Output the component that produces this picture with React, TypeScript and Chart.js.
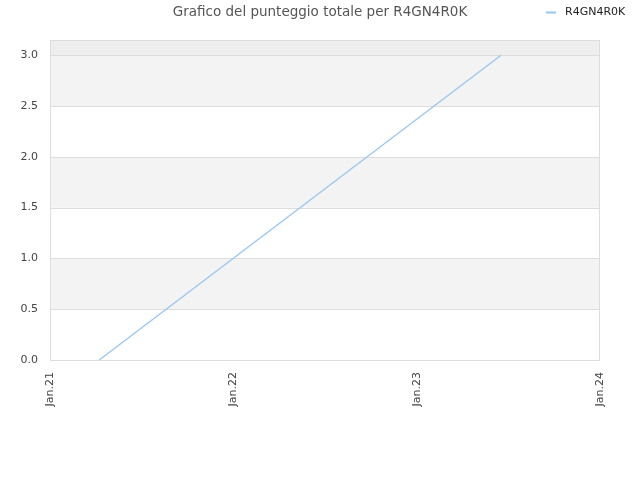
import React, { useEffect, useRef } from 'react';
import { Chart, registerables } from 'chart.js';

Chart.register(...registerables);

const seriesName = 'R4GN4R0K';
const pointDates = ['2021-04-09', '2023-06-18'];
const pointScores = [0, 3];
const yearTicks = ['2021-01-01', '2022-01-01', '2023-01-01', '2024-01-01'];
const monthNames = ['Jan.', 'Feb.', 'Mar.', 'Apr.', 'May.', 'Jun.', 'Jul.', 'Aug.', 'Sep.', 'Oct.', 'Nov.', 'Dec.'];

const toTime = (d: string) => new Date(d + 'T00:00:00Z').getTime();
const lineColor = '#97c6f1';

// alternating bands + frame round the plot area
const bandsPlugin = {
  id: 'bands',
  beforeDatasetsDraw(chart: any) {
    const { ctx, chartArea, scales } = chart;
    const y = scales.y;
    const w = chartArea.right - chartArea.left;
    ctx.save();
    for (let v = 0.5; v + 0.5 <= 3; v += 1) {
      const top = y.getPixelForValue(v + 0.5);
      const bottom = y.getPixelForValue(v);
      ctx.fillStyle = '#f3f3f3';
      ctx.fillRect(chartArea.left, top, w, bottom - top);
    }
    ctx.fillStyle = '#eeeeee';
    ctx.fillRect(chartArea.left, chartArea.top, w, y.getPixelForValue(3) - chartArea.top);
    ctx.strokeStyle = '#dddddd';
    ctx.lineWidth = 1;
    for (let v = 0; v <= 3; v += 0.5) {
      const py = Math.round(y.getPixelForValue(v)) + 0.5;
      ctx.beginPath();
      ctx.moveTo(chartArea.left, py);
      ctx.lineTo(chartArea.right, py);
      ctx.stroke();
    }
    ctx.strokeRect(chartArea.left + 0.5, chartArea.top + 0.5, w - 1, chartArea.bottom - chartArea.top);
    ctx.restore();
  },
  afterDraw(chart: any) {
    const { ctx } = chart;
    ctx.save();
    ctx.strokeStyle = lineColor;
    ctx.lineWidth = 2;
    ctx.beginPath();
    ctx.moveTo(546, 12.5);
    ctx.lineTo(556, 12.5);
    ctx.stroke();
    ctx.fillStyle = '#222';
    ctx.font = '11px "DejaVu Sans"';
    ctx.textBaseline = 'middle';
    ctx.fillText(seriesName, 565, 12.5);
    ctx.restore();
  },
};

const App: React.FC = () => {
  const canvasRef = useRef<HTMLCanvasElement>(null);

  useEffect(() => {
    document.body.style.margin = '0';
    const ctx = canvasRef.current?.getContext('2d');
    if (!ctx) return;

    const chart = new Chart(ctx, {
      type: 'line',
      data: {
        datasets: [
          {
            label: seriesName,
            data: pointDates.map((d, i) => ({ x: toTime(d), y: pointScores[i] })),
            borderColor: lineColor,
            borderWidth: 1.3,
            pointRadius: 0,
            tension: 0,
          },
        ],
      },
      options: {
        animation: false,
        responsive: false,
        layout: { padding: 0 },
        plugins: {
          legend: { display: false },
          tooltip: { enabled: false },
          title: {
            display: true,
            text: 'Grafico del punteggio totale per ' + seriesName,
            color: '#555',
            font: { family: 'DejaVu Sans', size: 13.5, weight: 'normal' },
            padding: { top: 4, bottom: 19.8 },
          },
        },
        scales: {
          x: {
            type: 'linear',
            min: toTime(yearTicks[0]),
            max: toTime(yearTicks[yearTicks.length - 1]),
            grid: { display: false, drawTicks: false },
            border: { display: false },
            afterBuildTicks: (s: any) => {
              s.ticks = yearTicks.map((t) => ({ value: toTime(t) }));
            },
            afterFit: (s: any) => {
              s.height = 120;
            },
            ticks: {
              autoSkip: false,
              maxRotation: 90,
              minRotation: 90,
              padding: 12,
              color: '#444',
              font: { family: 'DejaVu Sans', size: 11 },
              callback: (v: any) => {
                const d = new Date(Number(v));
                return monthNames[d.getUTCMonth()] + String(d.getUTCFullYear()).slice(2);
              },
            },
          },
          y: {
            min: 0,
            max: 3.15,
            grid: { display: false, drawTicks: false },
            border: { display: false },
            afterBuildTicks: (s: any) => {
              const t = [];
              for (let v = 0; v <= 3; v += 0.5) t.push({ value: v });
              s.ticks = t;
            },
            afterFit: (s: any) => {
              s.width = 50;
            },
            ticks: {
              padding: 12,
              color: '#444',
              font: { family: 'DejaVu Sans', size: 11 },
              callback: (v: any) => Number(v).toFixed(1),
            },
          },
          // empty right-hand axis that only keeps a 40px margin
          yRight: {
            position: 'right',
            grid: { display: false, drawTicks: false },
            border: { display: false },
            ticks: { display: false },
            afterFit: (s: any) => {
              s.width = 40;
            },
          },
        },
      },
      plugins: [bandsPlugin],
    });

    return () => {
      chart.destroy();
    };
  }, []);

  return (
    <div style={{ width: 640, height: 480 }}>
      <canvas ref={canvasRef} width={640} height={480} />
    </div>
  );
};

export default App;
